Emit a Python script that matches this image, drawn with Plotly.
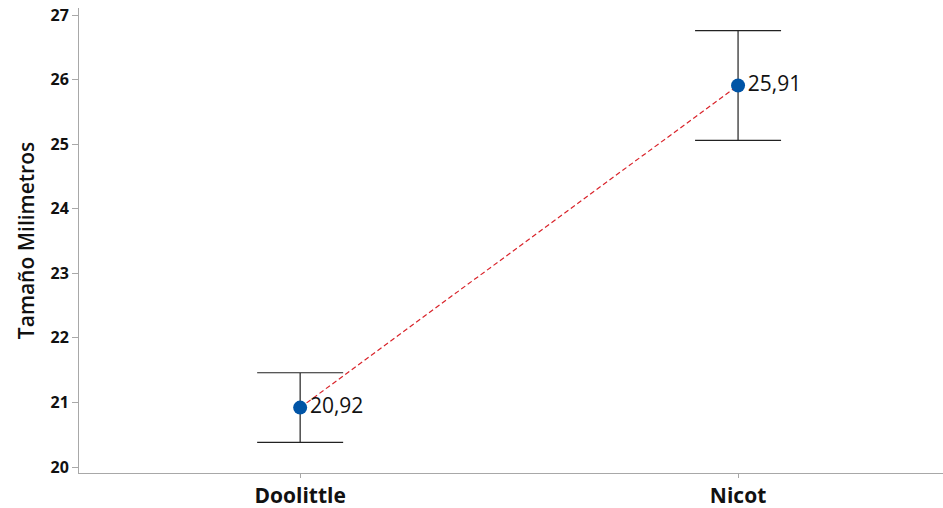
import plotly.graph_objects as go

# Mean size per group with the half-width of the interval
groups = ["Doolittle", "Nicot"]
means = [20.92, 25.91]
half_width = [0.54, 0.85]
mean_labels = ["20,92", "25,91"]
y_ticks = [20, 21, 22, 23, 24, 25, 26, 27]

x_pos = list(range(len(groups)))
font_family = "Open Sans, Noto Sans, DejaVu Sans, sans-serif"

fig = go.Figure()

# Connecting dashed line between group means
fig.add_trace(go.Scatter(
    x=x_pos, y=means, mode="lines",
    line=dict(color="#D9232A", width=1.2, dash="5px,3px"),
    hoverinfo="skip", showlegend=False,
))

# Means with interval bars and value labels
fig.add_trace(go.Scatter(
    x=x_pos, y=means, mode="markers+text",
    marker=dict(color="#0054A6", size=14),
    error_y=dict(type="data", array=half_width, visible=True,
                 color="#222222", thickness=1.2, width=43),
    text=mean_labels, textposition="middle right",
    textfont=dict(family=font_family, size=21, color="#111111"),
    showlegend=False,
))

fig.update_layout(
    width=943, height=508,
    margin=dict(l=79, r=0, t=8, b=35),
    paper_bgcolor="white", plot_bgcolor="white",
    font=dict(family=font_family, color="#111111"),
    xaxis=dict(
        range=[-0.505, 1.468],
        tickvals=x_pos, ticktext=groups,
        tickfont=dict(family=font_family, size=21, color="#111111", weight="bold"),
        showgrid=False, zeroline=False, automargin=False,
        showline=True, linecolor="#A8A8A8", linewidth=1,
        ticks="outside", ticklen=4, tickcolor="#A8A8A8",
    ),
    yaxis=dict(
        range=[19.907, 27.11],
        tickvals=y_ticks,
        tickfont=dict(family=font_family, size=16, color="#111111", weight="bold"),
        showgrid=False, zeroline=False, automargin=False,
        showline=True, linecolor="#A8A8A8", linewidth=1,
        ticks="outside", ticklen=6, tickcolor="#A8A8A8",
        title=dict(text="Tamaño Milimetros", standoff=10,
                   font=dict(family=font_family, size=21, color="#111111", weight=600)),
    ),
)

fig.write_html("out.html")
